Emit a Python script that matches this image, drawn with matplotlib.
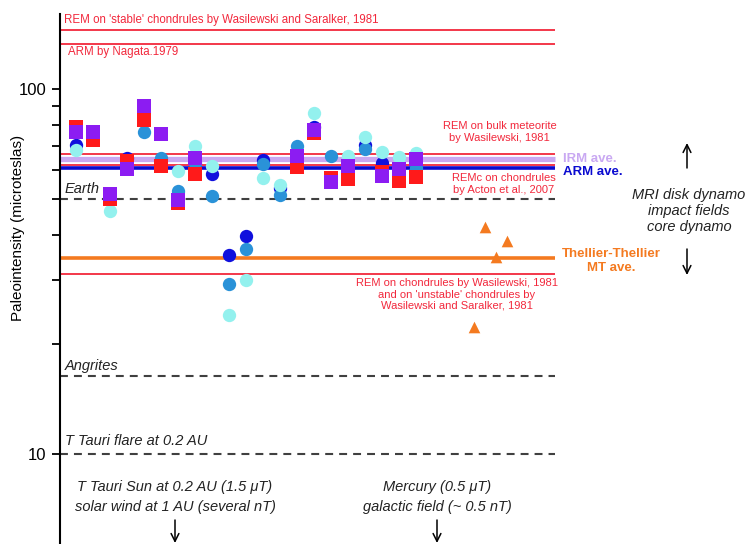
import numpy as np
import matplotlib
matplotlib.use("Agg")
import matplotlib.pyplot as plt

plt.rcParams['font.family'] = ['Liberation Sans', 'DejaVu Sans']

# sample positions are chondrule/sample index along the x direction
red_x = [0, 1, 2, 3, 4, 5, 6, 7, 13, 14, 15, 16, 18, 19, 20]
red_y = [78.9, 72.6, 50.1, 63.7, 82.5, 61.7, 48.8, 58.7, 61.4, 75.8, 57.1, 56.8, 59.5, 56.1, 57.5]

purple_x = [0, 1, 2, 3, 4, 5, 6, 7, 13, 14, 15, 16, 18, 19, 20]
purple_y = [76.5, 76.5, 51.7, 60.5, 90.3, 75.5, 49.6, 64.9, 65.7, 77.4, 55.6, 61.7, 57.9, 60.5, 64.5]

dblue_x = [0, 3, 8, 9, 10, 11, 12, 14, 17, 18]
dblue_y = [70.4, 64.9, 58.8, 35.2, 39.7, 64.0, 53.7, 79.1, 70.4, 62.7]

mblue_x = [4, 5, 6, 7, 8, 9, 10, 11, 12, 13, 15, 17, 20]
mblue_y = [76.5, 64.9, 52.8, 62.9, 51.1, 29.3, 36.4, 62.3, 51.3, 70.1, 65.6, 68.5, 60.9]

cyan_x = [0, 2, 6, 7, 8, 9, 10, 11, 12, 14, 16, 17, 18, 19, 20]
cyan_y = [68.3, 46.4, 59.8, 70.0, 61.8, 24.0, 30.0, 57.1, 54.7, 86.1, 65.8, 74.2, 67.3, 65.2, 66.8]

tri_x = [23.4, 24.05, 24.7, 25.35]
tri_y = [22.3, 41.9, 34.7, 38.4]

# reference field levels (microteslas)
rem_stable = 146
arm_nagata = 133
rem_bulk = 66.4
irm_ave = 64.5
remc_acton = 61.9
arm_ave = 60.7
earth = 50
tt_ave = 34.4
rem_chondrules = 31.1
angrites = 16.4
ttauri_flare = 10

W, H = 748, 544
fig = plt.figure(figsize=(W / 100, H / 100), dpi=100)
ax = fig.add_axes([60 / W, 0, (W - 60) / W, (H - 14) / H])
ax.set_yscale('log')
x0, x1 = (60 - 76) / 17, (W - 76) / 17
ax.set_xlim(x0, x1)
ax.set_ylim(5.66, 161.1)
xend = 28.2

red = '#f2283c'
ax.hlines([rem_stable, arm_nagata, rem_bulk, remc_acton, rem_chondrules], x0, xend,
          colors=red, lw=1.3, zorder=1)
ax.hlines(irm_ave, x0, xend, colors='#c9a8f2', lw=3.8, zorder=1)
ax.hlines(arm_ave, x0, xend, colors='#0a0ad0', lw=2.6, zorder=1)
ax.hlines(tt_ave, x0, xend, colors='#f47a20', lw=2.6, zorder=1)
for lev in [earth, angrites, ttauri_flare]:
    ax.hlines(lev, x0, xend, colors='#404040', lw=1.5, linestyles=(0, (3.8, 2.9)), zorder=1)

ms = 92
ax.scatter(dblue_x, dblue_y, s=ms, c='#1010dd', marker='o', zorder=3, lw=0)
ax.scatter(mblue_x, mblue_y, s=ms, c='#2a92d8', marker='o', zorder=4, lw=0)
ax.scatter(cyan_x, cyan_y, s=ms, c='#93f1ee', marker='o', zorder=5, lw=0)
ax.scatter(red_x, red_y, s=ms, c='#ff1a1a', marker='s', zorder=6, lw=0)
ax.scatter(purple_x, purple_y, s=ms, c='#8c1cf2', marker='s', zorder=7, lw=0)
ax.scatter(tri_x, tri_y, s=70, c='#f47a20', marker='^', zorder=6, lw=0)

for s in ['top', 'right', 'bottom']:
    ax.spines[s].set_visible(False)
ax.spines['left'].set_linewidth(1.5)
ax.set_xticks([])
ax.set_yticks([10, 100])
ax.set_yticklabels(['10', '100'], fontsize=12)
ax.set_yticks([20, 30, 40, 50, 60, 70, 80, 90], minor=True)
ax.yaxis.set_minor_formatter(matplotlib.ticker.NullFormatter())
ax.tick_params(axis='y', which='both', length=6, width=1.3, direction='out', pad=4)


def fp(x, y):
    return x / W, 1 - y / H


fig.text(*fp(18, 228), 'Paleointensity (microteslas)', rotation=90, ha='center', va='center', fontsize=11)

fig.text(*fp(64, 20), "REM on 'stable' chondrules by Wasilewski and Saralker, 1981",
         color=red, fontsize=8.3, va='center')
fig.text(*fp(68, 52), 'ARM by Nagata.1979', color=red, fontsize=8.3, va='center')
fig.text(*fp(499.5, 132), 'REM on bulk meteorite\nby Wasilewski, 1981', color=red, fontsize=8,
         ha='center', va='center', linespacing=1.15)
fig.text(*fp(504, 184), 'REMc on chondrules\nby Acton et al., 2007', color=red, fontsize=8,
         ha='center', va='center', linespacing=1.15)
fig.text(*fp(456.5, 294.5), "REM on chondrules by Wasilewski, 1981\nand on 'unstable' chondrules by\n"
         "Wasilewski and Saralker, 1981", color=red, fontsize=8, ha='center', va='center',
         linespacing=1.15)
fig.text(*fp(563, 159), 'IRM ave.', color='#c9a8f2', fontsize=9.5, fontweight='bold', va='center')
fig.text(*fp(563, 172), 'ARM ave.', color='#0a0ad0', fontsize=9.5, fontweight='bold', va='center')
fig.text(*fp(611.5, 261), 'Thellier-Thellier\nMT ave.', color='#f47a20', fontsize=9.5,
         fontweight='bold', ha='center', va='center', linespacing=1.15)

it = dict(style='italic', color='#222222', fontsize=10.5, va='center')
fig.text(*fp(65, 189), 'Earth', **it)
fig.text(*fp(65, 366), 'Angrites', **it)
fig.text(*fp(65, 441), 'T Tauri flare at 0.2 AU', **it)
fig.text(*fp(175, 497), 'T Tauri Sun at 0.2 AU (1.5 \u03bcT)\nsolar wind at 1 AU (several nT)',
         ha='center', linespacing=1.55, **it)
fig.text(*fp(437, 497), 'Mercury (0.5 \u03bcT)\ngalactic field (~ 0.5 nT)',
         ha='center', linespacing=1.55, **it)
fig.text(*fp(689, 211), 'MRI disk dynamo\nimpact fields\ncore dynamo', ha='center',
         linespacing=1.2, **it)

arr = dict(arrowstyle='->', lw=1.1, color='black', mutation_scale=14, shrinkA=0, shrinkB=0)
for (xa, ya), (xb, yb) in [((175, 520), (175, 543)), ((437, 520), (437, 543)),
                           ((687, 168), (687, 143)), ((687, 249), (687, 275))]:
    fig.add_artist(matplotlib.patches.FancyArrowPatch(fp(xa, ya), fp(xb, yb),
                                                      transform=fig.transFigure, **arr))

fig.savefig('out.png', dpi=100)
